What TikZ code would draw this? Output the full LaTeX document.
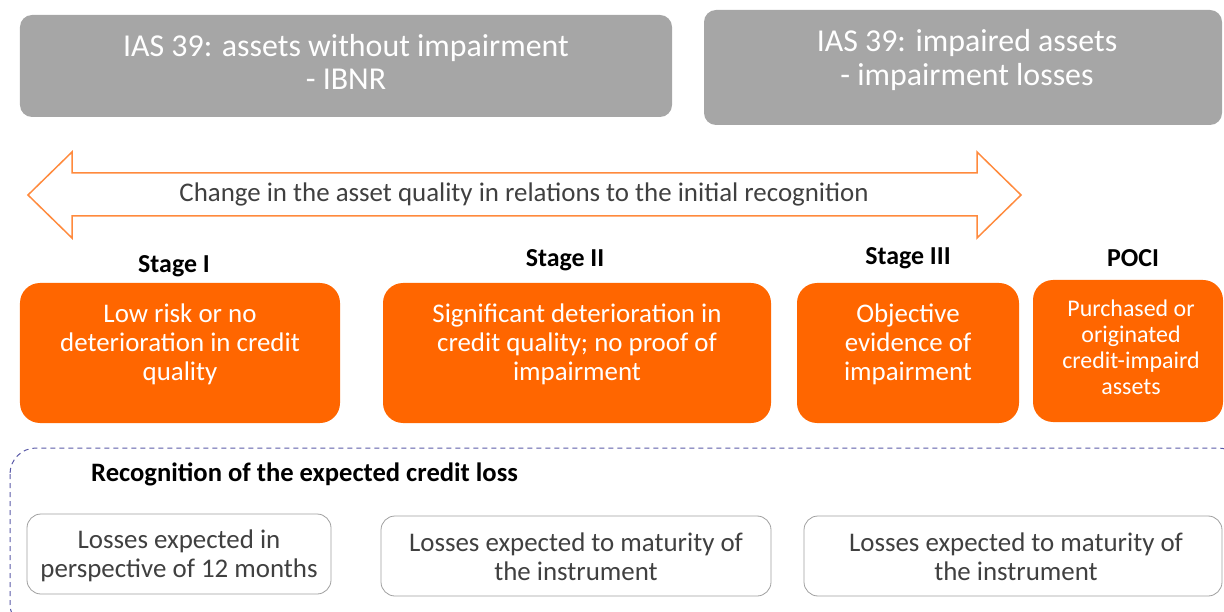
\documentclass[tikz,border=0pt]{standalone}
\usepackage{fontspec}
\setmainfont{Carlito}
\definecolor{boxgray}{HTML}{A6A6A6}
\definecolor{stageorange}{HTML}{FF6600}
\definecolor{arroworange}{HTML}{FF8A3D}
\definecolor{darktext}{HTML}{404040}
\definecolor{dashblue}{HTML}{5A5AA8}
\definecolor{framegray}{HTML}{A0A0A0}
\tikzset{
  graybox/.style={draw=none, fill=boxgray, rounded corners=12bp, inner sep=0pt},
  orangebox/.style={draw=none, fill=stageorange, rounded corners=20bp, inner sep=0pt},
  whitebox/.style={draw=framegray, line width=0.8bp, fill=white, rounded corners=14bp, inner sep=0pt},
  titletxt/.style={text=white, align=center, font=\fontsize{32}{33.5}\selectfont},
  stagetxt/.style={text=white, align=center, font=\fontsize{27}{29}\selectfont},
  pocitxt/.style={text=white, align=center, font=\fontsize{24}{26}\selectfont},
  losstxt/.style={text=darktext, align=center, font=\fontsize{27}{29}\selectfont},
  stagelabel/.style={text=black, font=\bfseries\fontsize{26}{28}\selectfont},
}
\begin{document}
\begin{tikzpicture}[x=1bp,y=-1bp]
\useasboundingbox (0,0) rectangle (1224,612);
% top gray boxes
\node[graybox, minimum width=652bp, minimum height=102bp] (g1) at (346,66) {};
\node[titletxt] (g1t) at ([yshift=4bp]g1.center) {IAS 39: assets without impairment\\- IBNR};
\node[graybox, minimum width=518bp, minimum height=115bp] (g2) at (963,67.5) {};
\node[titletxt] (g2t) at ([yshift=7.5bp,xshift=4bp]g2.center) {IAS 39: impaired assets\\- impairment losses};
% double arrow
\coordinate (al) at (28,195);
\coordinate (ar) at (1021,195);
\draw[arroworange, line width=1.5bp, line join=miter]
  (al) -- (72,152) -- (72,173) -- (977,173) -- (977,152) -- (ar)
  -- (977,238) -- (977,216) -- (72,216) -- (72,238) -- cycle;
\node[text=darktext, font=\fontsize{27}{29}\selectfont] (chg) at (524,194) {Change in the asset quality in relations to the initial recognition};
% stage labels
\node[stagelabel] (l1) at (174,266) {Stage I};
\node[stagelabel] (l2) at (565,260) {Stage II};
\node[stagelabel] (l3) at (908,258) {Stage III};
\node[stagelabel] (l4) at (1133,258) {POCI};
% orange boxes
\node[orangebox, minimum width=320bp, minimum height=140bp] (s1) at (180,353) {};
\node[stagetxt] (s1t) at ([yshift=9bp]s1.center) {Low risk or no\\deterioration in credit\\quality};
\node[orangebox, minimum width=388bp, minimum height=140bp] (s2) at (577,353) {};
\node[stagetxt] (s2t) at ([yshift=9bp]s2.center) {Significant deterioration in\\credit quality; no proof of\\impairment};
\node[orangebox, minimum width=222bp, minimum height=140bp] (s3) at (908,353) {};
\node[stagetxt] (s3t) at ([yshift=9bp]s3.center) {Objective\\evidence of\\impairment};
\node[orangebox, minimum width=190bp, minimum height=142bp] (s4) at (1128,351) {};
\node[pocitxt] (s4t) at ([yshift=4bp,xshift=3bp]s4.center) {Purchased or\\originated\\credit-impaird\\assets};
% dashed frame
\draw[dashblue, line width=1bp, dash pattern=on 5bp off 4bp, rounded corners=26bp] (10,448) rectangle (1244,630);
\node[stagelabel, anchor=west, inner sep=0pt, font=\bfseries\fontsize{26.7}{28}\selectfont] (rec) at (91,474) {Recognition of the expected credit loss};
% loss boxes
\node[whitebox, minimum width=304bp, minimum height=80bp] (b1) at (179,554) {};
\node[losstxt] (b1t) at ([yshift=-2bp]b1.center) {Losses expected in\\perspective of 12 months};
\node[whitebox, minimum width=390bp, minimum height=80bp] (b2) at (576,556) {};
\node[losstxt] (b2t) at ([yshift=-1bp]b2.center) {Losses expected to maturity of\\the instrument};
\node[whitebox, minimum width=418bp, minimum height=80bp] (b3) at (1013,556) {};
\node[losstxt] (b3t) at ([xshift=3bp,yshift=-1bp]b3.center) {Losses expected to maturity of\\the instrument};
\end{tikzpicture}
\end{document}
